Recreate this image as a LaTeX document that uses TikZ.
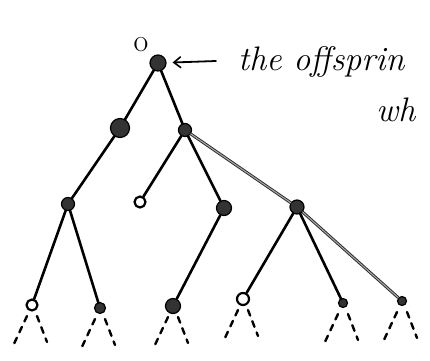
\documentclass[tikz,border=0pt]{standalone}
\usepackage{tikz}
\usetikzlibrary{arrows.meta}
\tikzset{
every picture/.style={line cap=round,line join=round},
full dot/.style={circle, draw=black, fill=black!80, line width=1.2pt, inner sep=0pt},
open dot/.style={circle, draw=black, fill=white, line width=2.2pt, inner sep=0pt},
tree edge/.style={draw=black, line width=2.6pt},
twin edge/.style={draw=black!85, double=black!35, double distance=1.1pt, line width=0.9pt},
stub/.style={draw=black, line width=2.4pt, dash pattern=on 6pt off 6pt},
pointer/.style={draw=black, line width=1.8pt, -{Straight Barb[length=7pt,width=11pt,line width=1.6pt]}},
hand text/.style={font=\fontsize{34}{36}\selectfont\itshape, anchor=base west, inner sep=0pt}
}

\begin{document}
\begin{tikzpicture}[x=1pt,y=-1pt]
\clip (0,0) rectangle (430,360);
% root and its remark
\node[full dot, minimum size=16pt] (root) at (158,63) {};
\node[font=\fontsize{32}{34}\selectfont, inner sep=0pt] (olab) at (141,45) {o};
\coordinate (tail) at (216,61);
\draw[pointer, shorten >=6pt] (tail) -- (root);
\node[hand text] (remark) at (238,70) {the offsprin};
\node[hand text] (remark2) at (376,121) {wh};
% inner nodes
\node[full dot, minimum size=19pt] (a) at (120,128) {};
\node[full dot, minimum size=13pt] (b) at (185,130) {};
\node[full dot, minimum size=13pt] (c) at (68,204) {};
\node[open dot, minimum size=11pt] (d) at (140,202) {};
\node[full dot, minimum size=15pt] (e) at (224,208) {};
\node[full dot, minimum size=14pt] (f) at (297,207) {};
% leaves
\node[open dot, minimum size=11pt] (l1) at (32,305) {};
\node[full dot, minimum size=11pt] (l2) at (100,308) {};
\node[full dot, minimum size=15pt] (l3) at (173,306) {};
\node[open dot, minimum size=12pt] (l4) at (243,299) {};
\node[full dot, minimum size=9pt] (l5) at (343,303) {};
\node[full dot, minimum size=9pt] (l6) at (402,301) {};
% edges
\draw[tree edge] (root) -- (a);
\draw[tree edge] (root) -- (b);
\draw[tree edge] (a) -- (c);
\draw[tree edge] (c) -- (l1);
\draw[tree edge] (c) -- (l2);
\draw[tree edge] (b) -- (d);
\draw[tree edge] (b) -- (e);
\draw[twin edge] (b) -- (f);
\draw[tree edge] (e) -- (l3);
\draw[tree edge] (f) -- (l4);
\draw[tree edge] (f) -- (l5);
\draw[twin edge] (f) -- (l6);
% dashed continuations below the leaves
\foreach \n in {l1,l2,l3,l4,l5,l6}{
  \draw[stub] (\n) ++(-5,11) -- ++(-14,30);
  \draw[stub] (\n) ++(5,11) -- ++(10,26);
}
\end{tikzpicture}
\end{document}
